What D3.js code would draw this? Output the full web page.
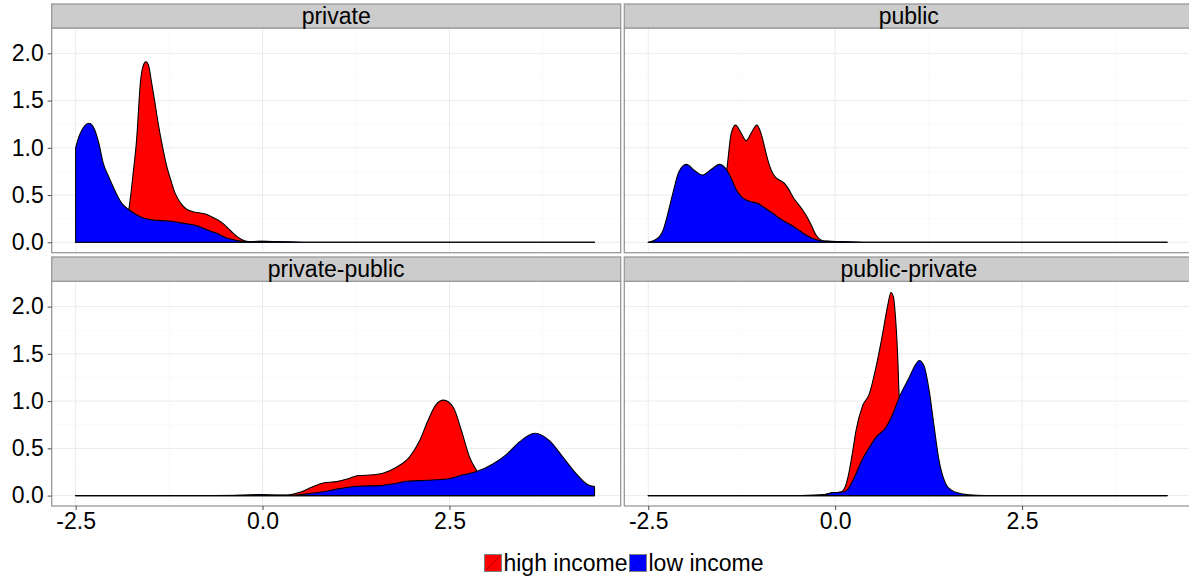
<!DOCTYPE html>
<html>
<head>
<meta charset="utf-8">
<script src="https://cdn.jsdelivr.net/npm/d3@7"></script>
<style>
  body { margin: 0; background: #fff; }
  svg { display: block; font-family: "Liberation Sans", Arial, Helvetica, sans-serif; }
</style>
</head>
<body>
<svg id="chart" width="1189" height="581"></svg>
<script>
// Facets, groups and colours
const facets = ["private", "public", "private-public", "public-private"];
const groups = ["high income", "low income"];
const groupColors = ["#FF0000", "#0000FF"];
const xTicks = [-2.5, 0, 2.5];
const xTickLabels = ["-2.5", "0.0", "2.5"];
const yTicks = [0, 0.5, 1, 1.5, 2];
const yTickLabels = ["0.0", "0.5", "1.0", "1.5", "2.0"];

// Kernel density estimates, [x, density]
const privateHigh = [[-2.5,0],[-2.2,0.002],[-2.0,0.02],[-1.9,0.1],[-1.84,0.2],[-1.786,0.36],[-1.735,0.7],[-1.685,1.08],[-1.63,1.72],[-1.6,1.86],[-1.56,1.91],[-1.52,1.86],[-1.49,1.72],[-1.44,1.48],[-1.396,1.26],[-1.34,1.02],[-1.28,0.80],[-1.22,0.64],[-1.17,0.52],[-1.09,0.41],[-1.016,0.35],[-0.93,0.324],[-0.83,0.31],[-0.73,0.29],[-0.63,0.25],[-0.53,0.20],[-0.45,0.14],[-0.39,0.095],[-0.33,0.055],[-0.28,0.03],[-0.19,0.008],[-0.05,0.01],[0.15,0.008],[0.4,0.002],[0.8,0],[4.44,0]];
const privateLow = [[-2.5,1.0],[-2.45,1.13],[-2.4,1.21],[-2.32,1.26],[-2.25,1.2],[-2.19,1.05],[-2.13,0.836],[-2.06,0.7],[-2.0,0.59],[-1.94,0.49],[-1.885,0.415],[-1.786,0.345],[-1.68,0.29],[-1.58,0.255],[-1.5,0.24],[-1.4,0.232],[-1.2,0.22],[-1.05,0.2],[-0.95,0.188],[-0.85,0.168],[-0.79,0.148],[-0.7,0.12],[-0.61,0.095],[-0.52,0.06],[-0.43,0.035],[-0.32,0.015],[-0.21,0.007],[0,0.01],[0.3,0.005],[0.7,0],[4.44,0]];

const publicHigh = [[-2.5,0],[-2.2,0.01],[-2.0,0.04],[-1.8,0.09],[-1.7,0.14],[-1.6,0.25],[-1.52,0.45],[-1.45,0.765],[-1.39,1.153],[-1.333,1.24],[-1.26,1.16],[-1.19,1.075],[-1.12,1.16],[-1.048,1.24],[-0.99,1.15],[-0.945,1.01],[-0.9,0.87],[-0.856,0.765],[-0.8,0.69],[-0.745,0.66],[-0.68,0.625],[-0.62,0.56],[-0.567,0.483],[-0.5,0.41],[-0.434,0.342],[-0.37,0.26],[-0.32,0.183],[-0.256,0.077],[-0.19,0.025],[-0.12,0.01],[0,0.008],[0.2,0.004],[0.5,0],[4.44,0]];
const publicLow = [[-2.5,0],[-2.45,0.01],[-2.4,0.03],[-2.35,0.06],[-2.3,0.13],[-2.26,0.236],[-2.17,0.52],[-2.09,0.747],[-1.99,0.825],[-1.88,0.76],[-1.777,0.712],[-1.66,0.77],[-1.546,0.825],[-1.45,0.765],[-1.38,0.66],[-1.32,0.553],[-1.25,0.48],[-1.19,0.448],[-1.1,0.425],[-1.035,0.412],[-0.97,0.38],[-0.9,0.342],[-0.82,0.3],[-0.745,0.254],[-0.65,0.21],[-0.567,0.172],[-0.48,0.125],[-0.39,0.077],[-0.3,0.04],[-0.21,0.02],[-0.1,0.012],[0.1,0.008],[0.25,0.004],[0.5,0],[4.44,0]];

const privPubHigh = [[-2.5,0],[-1.0,0],[-0.3,0.003],[-0.05,0.01],[0.15,0.005],[0.276,0.005],[0.4,0.015],[0.5,0.035],[0.655,0.088],[0.81,0.134],[0.99,0.148],[1.12,0.173],[1.28,0.212],[1.48,0.22],[1.61,0.236],[1.79,0.30],[1.97,0.413],[2.10,0.58],[2.21,0.79],[2.32,0.963],[2.42,1.01],[2.55,0.935],[2.66,0.688],[2.77,0.405],[2.87,0.257],[2.95,0.16],[3.05,0.09],[3.2,0.035],[3.4,0.01],[3.7,0],[4.44,0]];
const privPubLow = [[-2.5,0],[-0.5,0],[-0.2,0.006],[0.0,0.008],[0.2,0.004],[0.36,0.003],[0.59,0.018],[0.81,0.04],[1.03,0.074],[1.26,0.099],[1.57,0.106],[1.75,0.125],[1.925,0.152],[2.19,0.162],[2.46,0.175],[2.68,0.22],[2.87,0.257],[3.08,0.335],[3.26,0.434],[3.44,0.571],[3.64,0.66],[3.84,0.58],[4.02,0.405],[4.2,0.228],[4.35,0.116],[4.44,0.095]];

const pubPrivHigh = [[-2.5,0],[-0.6,0],[-0.3,0.003],[-0.167,0.008],[-0.035,0.028],[0.05,0.035],[0.1,0.05],[0.15,0.13],[0.19,0.265],[0.235,0.47],[0.279,0.688],[0.368,0.952],[0.457,1.076],[0.546,1.358],[0.634,1.71],[0.7,2.0],[0.746,2.15],[0.78,2.1],[0.804,1.92],[0.835,1.5],[0.857,1.04],[0.9,0.75],[1.0,0.42],[1.1,0.2],[1.2,0.08],[1.35,0.02],[1.6,0.003],[2.0,0],[4.44,0]];
const pubPrivLow = [[-2.5,0],[-0.6,0],[-0.3,0.003],[-0.13,0.012],[-0.033,0.032],[0.08,0.035],[0.147,0.05],[0.236,0.159],[0.345,0.353],[0.457,0.511],[0.546,0.617],[0.68,0.723],[0.77,0.864],[0.857,1.04],[0.99,1.25],[1.07,1.38],[1.124,1.43],[1.19,1.37],[1.258,1.11],[1.325,0.723],[1.39,0.37],[1.48,0.123],[1.55,0.06],[1.616,0.035],[1.79,0.008],[2.0,0],[4.44,0]];

const densities = {
  "private": [privateHigh, privateLow],
  "public": [publicHigh, publicLow],
  "private-public": [privPubHigh, privPubLow],
  "public-private": [pubPrivHigh, pubPrivLow]
};

// Layout
const svg = d3.select("#chart");
const fontSize = 23;
const panelW = 569;
const colLeft = [51.7, 624.3];
const rows = [
  { stripTop: 4, top: 28, bottom: 252.7 },
  { stripTop: 257, top: 281.3, bottom: 506 }
];
const xDomain = [-2.82, 4.79];
const yDomain = [-0.11, 2.268];

const gridMajor = "#EBEBEB";
const gridMinor = "#FAFAFA";
const borderCol = "#999999";

facets.forEach((name, i) => {
  const col = i % 2, row = Math.floor(i / 2);
  const x0 = colLeft[col], r = rows[row];
  const x = d3.scaleLinear().domain(xDomain).range([x0, x0 + panelW]);
  const y = d3.scaleLinear().domain(yDomain).range([r.bottom, r.top]);
  const g = svg.append("g");

  // panel background and grid
  g.append("rect").attr("x", x0).attr("y", r.top).attr("width", panelW)
    .attr("height", r.bottom - r.top).attr("fill", "#fff");
  const minorX = [-1.25, 1.25, 3.75];
  const minorY = [0.25, 0.75, 1.25, 1.75];
  g.selectAll(".mx").data(minorX).join("line")
    .attr("x1", d => x(d)).attr("x2", d => x(d)).attr("y1", r.top).attr("y2", r.bottom)
    .attr("stroke", gridMinor).attr("stroke-width", 1);
  g.selectAll(".my").data(minorY).join("line")
    .attr("x1", x0).attr("x2", x0 + panelW).attr("y1", d => y(d)).attr("y2", d => y(d))
    .attr("stroke", gridMinor).attr("stroke-width", 1);
  g.selectAll(".gx").data(xTicks).join("line")
    .attr("x1", d => x(d)).attr("x2", d => x(d)).attr("y1", r.top).attr("y2", r.bottom)
    .attr("stroke", gridMajor).attr("stroke-width", 1);
  g.selectAll(".gy").data(yTicks).join("line")
    .attr("x1", x0).attr("x2", x0 + panelW).attr("y1", d => y(d)).attr("y2", d => y(d))
    .attr("stroke", gridMajor).attr("stroke-width", 1);

  // density areas: high income first, low income on top
  const area = d3.area()
    .x(d => x(d[0])).y0(y(0)).y1(d => y(d[1]))
    .curve(d3.curveMonotoneX);
  densities[name].forEach((pts, gi) => {
    g.append("path").datum(pts)
      .attr("d", d => area(d) + "Z")
      .attr("fill", groupColors[gi])
      .attr("stroke", "#000").attr("stroke-width", 1.1)
      .attr("stroke-linejoin", "round");
  });

  // panel border
  g.append("rect").attr("x", x0).attr("y", r.top).attr("width", panelW)
    .attr("height", r.bottom - r.top).attr("fill", "none")
    .attr("stroke", borderCol).attr("stroke-width", 1.3);

  // strip
  g.append("rect").attr("x", x0).attr("y", r.stripTop).attr("width", panelW)
    .attr("height", r.top - r.stripTop).attr("fill", "#CCCCCC")
    .attr("stroke", borderCol).attr("stroke-width", 1.3);
  g.append("text").attr("x", x0 + panelW / 2).attr("y", (r.stripTop + r.top) / 2)
    .attr("dy", "0.35em").attr("text-anchor", "middle")
    .attr("font-size", fontSize).attr("fill", "#000").text(name);

  // y axis on left column
  if (col === 0) {
    const ya = d3.axisLeft(y).tickValues(yTicks)
      .tickFormat((d, k) => yTickLabels[k]).tickSize(4).tickPadding(4);
    const ag = g.append("g").attr("transform", `translate(${x0},0)`).call(ya);
    ag.select(".domain").remove();
    ag.selectAll(".tick line").attr("stroke", "#4d4d4d");
    ag.selectAll(".tick text").attr("font-size", fontSize).attr("fill", "#000")
      .attr("font-family", "Liberation Sans, Arial, sans-serif");
  }
  // x axis on bottom row
  if (row === 1) {
    const xa = d3.axisBottom(x).tickValues(xTicks)
      .tickFormat((d, k) => xTickLabels[k]).tickSize(4).tickPadding(3);
    const ag = g.append("g").attr("transform", `translate(0,${r.bottom})`).call(xa);
    ag.select(".domain").remove();
    ag.selectAll(".tick line").attr("stroke", "#4d4d4d");
    ag.selectAll(".tick text").attr("font-size", fontSize).attr("fill", "#000")
      .attr("font-family", "Liberation Sans, Arial, sans-serif");
  }
});

// legend along the bottom
const legend = svg.append("g");
const keySize = 17, legendCy = 563, legendCenter = 624;
let cursor = 0;
const items = [];
groups.forEach((label, gi) => {
  const item = legend.append("g");
  item.append("rect").attr("x", 0).attr("y", -keySize / 2)
    .attr("width", keySize).attr("height", keySize)
    .attr("fill", groupColors[gi]).attr("stroke", "#7F7F7F").attr("stroke-width", 1);
  item.append("line").attr("x1", 0.5).attr("y1", keySize / 2 - 0.5)
    .attr("x2", keySize - 0.5).attr("y2", -keySize / 2 + 0.5)
    .attr("stroke", "#000").attr("stroke-opacity", 0.45).attr("stroke-width", 0.6);
  const t = item.append("text").attr("x", keySize + 2).attr("y", 0).attr("dy", "0.35em")
    .attr("font-size", fontSize).attr("fill", "#000").text(label);
  const w = keySize + 2 + t.node().getComputedTextLength();
  items.push({ item, offset: cursor });
  cursor += w + 2;
});
const total = cursor - 2;
items.forEach(({ item, offset }) => {
  item.attr("transform", `translate(${legendCenter - total / 2 + offset},${legendCy})`);
});
</script>
</body>
</html>
